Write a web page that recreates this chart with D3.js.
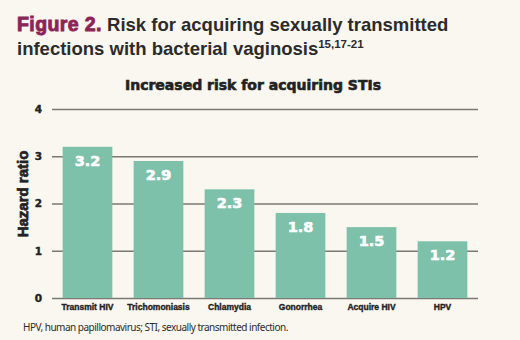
<!DOCTYPE html>
<html>
<head>
<meta charset="utf-8">
<script src="https://cdn.jsdelivr.net/npm/d3@7"></script>
<style>
  body { margin: 0; background: #faf7f0; }
  svg { display: block; }
</style>
</head>
<body>
<div id="chart"></div>
<script>
// infections and hazard ratios
var infections = ["Transmit HIV", "Trichomoniasis", "Chlamydia", "Gonorrhea", "Acquire HIV", "HPV"];
var hazardRatios = [3.2, 2.9, 2.3, 1.8, 1.5, 1.2];
var yTicks = [0, 1, 2, 3, 4];

var W = 520, H = 340;
var plot = { left: 52, right: 478, top: 109, bottom: 298 };
var heavy = "Liberation Sans, Arial, sans-serif";
var wide = "DejaVu Sans, sans-serif";

var svg = d3.select("#chart")
  .append("svg")
  .attr("width", W)
  .attr("height", H);

svg.append("rect")
  .attr("width", W)
  .attr("height", H)
  .attr("fill", "#faf7f0");

// figure heading
var head = svg.append("text")
  .attr("x", 17)
  .attr("y", 31)
  .style("font-family", heavy)
  .style("font-weight", "bold")
  .style("font-size", "18.5px")
  .attr("fill", "#2b2b2b");
head.append("tspan")
  .attr("fill", "#8c2557")
  .attr("stroke", "#8c2557")
  .attr("stroke-width", 0.9)
  .style("font-size", "19.5px")
  .style("letter-spacing", "0.4px")
  .text("Figure 2.");
head.append("tspan").text(" Risk for acquiring sexually transmitted");

var head2 = svg.append("text")
  .attr("x", 17)
  .attr("y", 55)
  .style("font-family", heavy)
  .style("font-weight", "bold")
  .style("font-size", "18.5px")
  .attr("fill", "#2b2b2b")
  .text("infections with bacterial vaginosis");
head2.append("tspan")
  .attr("dy", -7)
  .style("font-size", "11.5px")
  .text("15,17-21");

svg.append("text")
  .attr("x", 253)
  .attr("y", 90)
  .attr("text-anchor", "middle")
  .style("font-family", wide)
  .style("font-weight", "bold")
  .style("font-size", "14px")
  .attr("fill", "#222")
  .attr("stroke", "#222")
  .attr("stroke-width", 0.6)
  .text("Increased risk for acquiring STIs");

var x = d3.scaleBand()
  .domain(infections)
  .range([plot.left, plot.right])
  .paddingInner(0.3)
  .paddingOuter(0.15);

var y = d3.scaleLinear()
  .domain([0, 4])
  .range([plot.bottom, plot.top]);

// gridlines and y tick labels
var yAxis = svg.append("g")
  .attr("transform", "translate(" + plot.left + ",0)")
  .call(d3.axisLeft(y)
    .tickValues(yTicks)
    .tickFormat(d3.format("d"))
    .tickSize(-(plot.right - plot.left))
    .tickPadding(10));
yAxis.select(".domain").remove();
yAxis.selectAll(".tick line")
  .attr("stroke", "#7b7975")
  .attr("stroke-width", 1.5);
yAxis.selectAll(".tick text")
  .attr("fill", "#222")
  .attr("stroke", "#222")
  .attr("stroke-width", 0.4)
  .style("font-family", wide)
  .style("font-weight", "bold")
  .style("font-size", "10.5px");

svg.append("text")
  .attr("transform", "translate(28,194) rotate(-90)")
  .attr("text-anchor", "middle")
  .style("font-family", heavy)
  .style("font-weight", "bold")
  .style("font-size", "15px")
  .attr("fill", "#222")
  .attr("stroke", "#222")
  .attr("stroke-width", 0.7)
  .text("Hazard ratio");

var data = infections.map(function(d, i) {
  return { name: d, value: hazardRatios[i] };
});

// bars
svg.append("g")
  .selectAll("rect")
  .data(data)
  .enter()
  .append("rect")
  .attr("x", function(d) { return x(d.name); })
  .attr("y", function(d) { return y(d.value); })
  .attr("width", x.bandwidth())
  .attr("height", function(d) { return y(0) - y(d.value); })
  .attr("fill", "#7ec1aa");

// value labels inside the bars
svg.append("g")
  .selectAll("text")
  .data(data)
  .enter()
  .append("text")
  .attr("x", function(d) { return x(d.name) + x.bandwidth() / 2; })
  .attr("y", function(d) { return y(d.value) + 19; })
  .attr("text-anchor", "middle")
  .style("font-family", wide)
  .style("font-weight", "bold")
  .style("font-size", "14.5px")
  .attr("fill", "#fff")
  .attr("stroke", "#fff")
  .attr("stroke-width", 0.6)
  .text(function(d) { return d.value.toFixed(1); });

// category labels
var xAxis = svg.append("g")
  .attr("transform", "translate(0," + plot.bottom + ")")
  .call(d3.axisBottom(x).tickSize(0).tickPadding(6));
xAxis.select(".domain").remove();
xAxis.selectAll(".tick text")
  .attr("fill", "#222")
  .attr("stroke", "#222")
  .attr("stroke-width", 0.35)
  .style("font-family", heavy)
  .style("font-weight", "bold")
  .style("font-size", "8.5px");

svg.append("text")
  .attr("x", 23)
  .attr("y", 331)
  .style("font-family", "Noto Sans, sans-serif")
  .style("font-size", "10px")
  .style("letter-spacing", "-0.5px")
  .attr("fill", "#2b2b2b")
  .text("HPV, human papillomavirus; STI, sexually transmitted infection.");
</script>
</body>
</html>
